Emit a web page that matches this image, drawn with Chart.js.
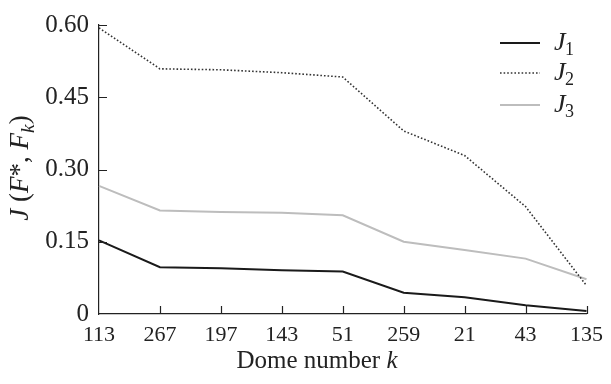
<!DOCTYPE html>
<html>
<head>
<meta charset="utf-8">
<script src="https://cdn.jsdelivr.net/npm/chart.js@4"></script>
<style>
  html, body { margin: 0; padding: 0; background: #fff; }
  #wrap { width: 611px; height: 384px; position: relative; }
</style>
</head>
<body>
<div id="wrap"><canvas id="chart"></canvas></div>
<script>
// DATA
const domes = ['113', '267', '197', '143', '51', '259', '21', '43', '135'];
const j1 = [0.153, 0.097, 0.095, 0.091, 0.088, 0.044, 0.035, 0.018, 0.006];
const j2 = [0.594, 0.509, 0.507, 0.501, 0.492, 0.380, 0.329, 0.223, 0.059];
const j3 = [0.266, 0.215, 0.212, 0.210, 0.205, 0.150, 0.133, 0.115, 0.072];
const yTicks = [0, 0.15, 0.30, 0.45, 0.60];

const serif = '"Liberation Serif", "DejaVu Serif", serif';

// draw text pieces with italics / subscripts
function drawRich(ctx, parts, x, y, size) {
    let total = 0;
    parts.forEach(p => {
        ctx.font = (p.i ? 'italic ' : '') + (p.sub ? size * 0.72 : size) + 'px ' + serif;
        p.w = ctx.measureText(p.t).width;
        total += p.w;
    });
    let cx = x - total / 2;
    parts.forEach(p => {
        ctx.font = (p.i ? 'italic ' : '') + (p.sub ? size * 0.72 : size) + 'px ' + serif;
        ctx.fillText(p.t, cx, y + (p.sub ? size * 0.28 : 0));
        cx += p.w;
    });
}

const extras = {
    id: 'extras',
    afterDraw(chart) {
        const ctx = chart.ctx;
        const xs = chart.scales.x, ys = chart.scales.y;
        const area = chart.chartArea;
        ctx.save();
        ctx.strokeStyle = '#222';
        ctx.lineWidth = 1.2;
        // inward ticks
        ctx.beginPath();
        domes.forEach((d, i) => {
            if (i === 0) return;
            const px = Math.round(xs.getPixelForValue(i)) + 0.5;
            ctx.moveTo(px, area.bottom);
            ctx.lineTo(px, area.bottom - 8);
        });
        yTicks.forEach((v, i) => {
            if (i === 0) return;
            const py = Math.round(ys.getPixelForValue(v)) + 0.5;
            ctx.moveTo(area.left, py);
            ctx.lineTo(area.left + 8, py);
        });
        ctx.stroke();

        ctx.fillStyle = '#222';
        ctx.textBaseline = 'middle';
        ctx.textAlign = 'left';
        // x title
        drawRich(ctx, [{t: 'Dome number '}, {t: 'k', i: true}], 317, 361, 25);
        // y title
        ctx.save();
        ctx.translate(21, 168);
        ctx.rotate(-Math.PI / 2);
        drawRich(ctx, [{t: 'J', i: true}, {t: ' ('}, {t: 'F', i: true}, {t: '*, '},
                       {t: 'F', i: true}, {t: 'k', i: true, sub: true}, {t: ')'}], 0, 0, 27);
        ctx.restore();

        // legend
        const names = ['1', '2', '3'];
        const rows = [43, 73, 105];
        chart.data.datasets.forEach((ds, i) => {
            ctx.save();
            ctx.strokeStyle = ds.borderColor;
            ctx.lineWidth = ds.borderWidth;
            ctx.setLineDash(ds.borderDash || []);
            ctx.beginPath();
            ctx.moveTo(500, rows[i]);
            ctx.lineTo(540, rows[i]);
            ctx.stroke();
            ctx.restore();
            ctx.textAlign = 'left';
            ctx.font = 'italic 26px ' + serif;
            ctx.fillText('J', 554, rows[i]);
            ctx.font = '18px ' + serif;
            ctx.fillText(names[i], 565, rows[i] + 7);
        });
        ctx.restore();
    }
};

window.onload = function () {
    new Chart(document.getElementById('chart'), {
        type: 'line',
        data: {
            labels: domes,
            datasets: [{
                label: 'J1',
                data: j1,
                borderColor: '#1a1a1a',
                borderWidth: 2,
                pointRadius: 0,
                tension: 0
            }, {
                label: 'J2',
                data: j2,
                borderColor: '#333333',
                borderWidth: 1.6,
                borderDash: [1.6, 2],
                pointRadius: 0,
                tension: 0
            }, {
                label: 'J3',
                data: j3,
                borderColor: '#bdbdbd',
                borderWidth: 2,
                pointRadius: 0,
                tension: 0
            }]
        },
        options: {
            responsive: true,
            maintainAspectRatio: false,
            animation: false,
            layout: { padding: { top: 22, right: 18, left: 0, bottom: 0 } },
            plugins: { legend: { display: false }, tooltip: { enabled: false } },
            scales: {
                x: {
                    offset: false,
                    grid: { display: false, drawTicks: false },
                    border: { display: true, color: '#222', width: 1.2 },
                    ticks: {
                        color: '#222', padding: 8, maxRotation: 0, autoSkip: false,
                        font: { family: serif, size: 22 }
                    },
                    afterFit(s) { s.height = 70; }
                },
                y: {
                    min: 0, max: 0.6,
                    afterBuildTicks(s) { s.ticks = yTicks.map(v => ({ value: v })); },
                    grid: { display: false, drawTicks: false },
                    border: { display: true, color: '#222', width: 1.2 },
                    ticks: {
                        color: '#222', padding: 10,
                        font: { family: serif, size: 25 },
                        callback: v => v === 0 ? '0' : v.toFixed(2)
                    },
                    afterFit(s) { s.width = 99; }
                }
            }
        },
        plugins: [extras]
    });
};
</script>
</body>
</html>
